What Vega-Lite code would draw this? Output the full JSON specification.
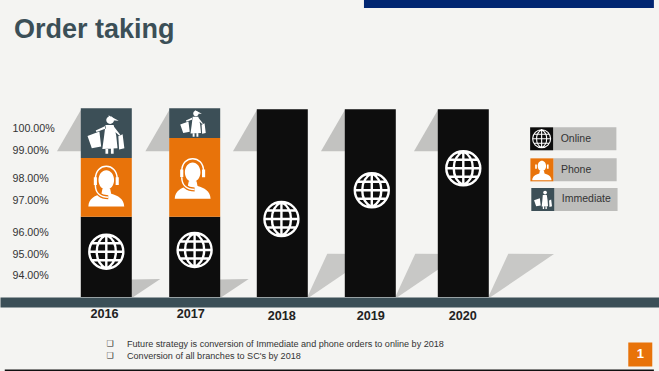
{
"$schema":"https://vega.github.io/schema/vega-lite/v6.json",
"width":659,"height":371,"padding":0,"autosize":{"type":"none"},
"background":"#f4f4f2",
"config":{"view":{"stroke":null},"font":"Liberation Sans"},
"title":{"text":"Order taking","anchor":"start","frame":"group","orient":"top","align":"left","baseline":"alphabetic","dx":14,"dy":65,"offset":0,"font":"Liberation Sans","fontSize":27,"fontWeight":"bold","color":"#3b4f57"},
"datasets":{
"bars":[
{"year":2016,"channel":"Online","low":0.93,"value":0.9648},
{"year":2016,"channel":"Phone","low":0.9648,"value":0.98714},
{"year":2016,"channel":"Immediate","low":0.98714,"value":1.00895},
{"year":2017,"channel":"Online","low":0.93,"value":0.96478},
{"year":2017,"channel":"Phone","low":0.96478,"value":0.99545},
{"year":2017,"channel":"Immediate","low":0.99545,"value":1.00895},
{"year":2018,"channel":"Online","low":0.93,"value":1.0085},
{"year":2019,"channel":"Online","low":0.93,"value":1.0085},
{"year":2020,"channel":"Online","low":0.93,"value":1.0085}
],
"marks":[
{"kind":"shadowTop","year":2016,"value":1.0085},{"kind":"shadowTop","year":2017,"value":1.0085},{"kind":"shadowTop","year":2018,"value":1.0085},{"kind":"shadowTop","year":2019,"value":1.0085},{"kind":"shadowTop","year":2020,"value":1.0085},
{"kind":"shadowLow","year":2016,"value":0.93},{"kind":"shadowLow","year":2017,"value":0.93},
{"kind":"shadowHigh","year":2018,"value":0.93},{"kind":"shadowHigh","year":2019,"value":0.93},{"kind":"shadowHigh","year":2020,"value":0.93},
{"kind":"globe","year":2016,"value":0.95105},{"kind":"globe","year":2016.999,"value":0.95182},{"kind":"globe","year":2017.99,"value":0.96406},{"kind":"globe","year":2019.016,"value":0.97441},{"kind":"globe","year":2020,"value":0.98346},
{"kind":"agent","year":2016,"value":0.97591},{"kind":"agent","year":2016.977,"value":0.97941},
{"kind":"woman","year":2015.99,"value":0.99714},
{"kind":"womanSmall","year":2016.977,"value":1.00214},
{"kind":"swatch","series":"Online","year":2020.863,"value":0.99509,"label":"Online"},
{"kind":"swatch","series":"Phone","year":2020.866,"value":0.98291,"label":"Phone"},
{"kind":"swatch","series":"Immediate","year":2020.876,"value":0.97023,"label":"Immediate"},
{"kind":"legendGlobe","year":2020.863,"value":0.99509},
{"kind":"legendAgent","year":2020.866,"value":0.98291},
{"kind":"legendWoman","year":2020.876,"value":0.97023},
{"kind":"note","year":2016.234,"value":0.91095,"label":"Future strategy is conversion of Immediate and phone orders to online by 2018"},
{"kind":"note","year":2016.234,"value":0.90608,"label":"Conversion of all branches to SC's by 2018"},
{"kind":"page","year":2021.95,"value":0.90669,"label":"1"}
],
"bands":[
{"band":"top","year":2018.928,"yearEnd":2022.1,"value":1.05818,"valueEnd":1.05454},
{"band":"bottom","year":2014.8,"yearEnd":2022.1,"value":0.9,"valueEnd":0.90057}
]
},
"encoding":{
"x":{"field":"year","type":"quantitative","title":null,
 "scale":{"type":"linear","zero":false,"nice":false,"domain":[2014.8,2016,2017,2018,2019,2020,2022.1],"range":[0,106.3,194.7,282.3,370.3,463.3,659]},
 "axis":{"orient":"bottom","offset":-69,"values":[2016,2017,2018,2019,2020],"format":"d","grid":false,"ticks":false,"domain":true,"domainColor":"#3b4f57","domainWidth":10,
  "labelFont":"Liberation Sans","labelFontSize":12.7,"labelFontWeight":"bold","labelColor":"#222222","labelFlush":false,"labelOverlap":false,"labelBound":false,
  "labelPadding":{"condition":{"test":"datum.value<2018","value":5},"value":7},
  "labelOffset":{"condition":[{"test":"datum.value==2016","value":-2.3},{"test":"datum.value==2017","value":-4.4},{"test":"datum.value==2018","value":-1},{"test":"datum.value==2020","value":-1}],"value":0}}},
"y":{"field":"value","type":"quantitative","title":null,
 "scale":{"type":"linear","zero":false,"nice":false,"domain":[0.9,0.93,0.94,0.95,0.96,0.97,0.98,0.99,1,1.01,1.05818],"range":[371,297,275,254,232,200,178,150,128,106,0]},
 "axis":{"orient":"left","offset":-12,"values":[0.94,0.95,0.96,0.97,0.98,0.99,1],"format":".2%","grid":false,"ticks":false,"domain":false,"labelAlign":"left","labelPadding":0,
  "labelFont":"Liberation Sans","labelFontSize":10.7,"labelColor":"#333333","labelFlush":false,"labelOverlap":false,"labelBound":false}}
},
"layer":[
{"data":{"name":"bands"},"transform":[{"filter":"datum.band=='top'"}],"mark":{"type":"rect","color":"#012672"},"encoding":{"x2":{"field":"yearEnd"},"y2":{"field":"valueEnd"}}},
{"data":{"name":"bands"},"transform":[{"filter":"datum.band=='bottom'"}],"mark":{"type":"rect","color":"#111111"},"encoding":{"x2":{"field":"yearEnd"},"y2":{"field":"valueEnd"}}},
{"data":{"name":"marks"},"transform":[{"filter":"datum.kind=='shadowTop'"}],"mark":{"type":"point","filled":true,"opacity":1,"color":"#c2c2c0","size":400,"shape":"M-2.5,0L-4.93,4.2L-2.5,4.2Z"}},
{"data":{"name":"marks"},"transform":[{"filter":"datum.kind=='shadowLow'"}],"mark":{"type":"point","filled":true,"opacity":1,"color":"#c2c2c0","size":400,"shape":"M2.5,0L2.5,-1.75L5.4,-1.8L2.7,0Z"}},
{"data":{"name":"marks"},"transform":[{"filter":"datum.kind=='shadowHigh'"}],"mark":{"type":"point","filled":true,"opacity":1,"color":"#c8c8c6","size":400,"shape":"M2.5,0L4.5,-4.33L9.07,-4.3L2.74,0Z"}},
{"data":{"name":"bars"},"mark":{"type":"bar","width":51},"encoding":{"y2":{"field":"low"},"color":{"field":"channel","type":"nominal","legend":null,"scale":{"domain":["Online","Phone","Immediate"],"range":["#0d0d0d","#e8730a","#3c4f57"]}}}},
{"data":{"name":"marks"},"transform":[{"filter":"datum.kind=='globe'"}],"mark":{"type":"point","filled":false,"opacity":1,"stroke":"#ffffff","strokeWidth":2.4,"size":1156,"shape":"M-1,0A1,1 0 1 1 1,0A1,1 0 1 1 -1,0Z M0,-1V1 M-1,0H1 M-0.85,-0.5H0.85 M-0.85,0.5H0.85 M0,-1C-0.75,-0.6 -0.75,0.6 0,1 M0,-1C0.75,-0.6 0.75,0.6 0,1"}},
{"data":{"name":"marks"},"transform":[{"filter":"datum.kind=='agent'"}],"mark":{"type":"point","filled":true,"opacity":1,"color":"#ffffff","size":1521,"shape":"M-0.4,-0.36A0.4,0.5 0 1 1 0.4,-0.36A0.4,0.5 0 1 1 -0.4,-0.36Z M-0.2,0.1L0.2,0.1L0.25,0.35C0.6,0.45 0.9,0.6 0.92,1L-0.92,1C-0.9,0.6 -0.6,0.45 -0.25,0.35Z M-0.64,-0.5H-0.48V-0.1H-0.64Z M0.48,-0.5H0.64V-0.1H0.48Z"}},
{"data":{"name":"marks"},"transform":[{"filter":"datum.kind=='agent'"}],"mark":{"type":"point","filled":false,"opacity":1,"stroke":"#e8730a","strokeWidth":4,"size":1521,"shape":"M-0.55,-0.1C-0.55,0.35 -0.25,0.52 0.1,0.52"}},
{"data":{"name":"marks"},"transform":[{"filter":"datum.kind=='agent'"}],"mark":{"type":"point","filled":false,"opacity":1,"stroke":"#ffffff","strokeWidth":1.5,"size":1521,"shape":"M-0.56,-0.4C-0.56,-1.28 0.56,-1.28 0.56,-0.4 M-0.56,-0.1C-0.56,0.35 -0.25,0.52 0.1,0.52"}},
{"data":{"name":"marks"},"transform":[{"filter":"datum.kind=='woman'"}],"mark":{"type":"point","filled":true,"opacity":1,"color":"#ffffff","size":1521,"shape":"M0.04,-0.73A0.2,0.2 0 1 1 0.44,-0.73A0.2,0.2 0 1 1 0.04,-0.73Z M0.15,-0.98L0.68,-0.7L0.3,-0.72Z M0,-0.48L0.42,-0.48L0.55,0.05L0.62,0.72L-0.16,0.75L-0.07,0.1Z M0,0.75H0.14V1H0Z M0.28,0.72H0.42V1H0.28Z M-0.92,0.09L-0.31,-0.14L-0.22,0.63L-0.7,0.72Z M0.66,0.1L0.88,0L0.97,0.72L0.7,0.78Z M0.02,-0.44L-0.5,-0.2L-0.46,-0.12L0.02,-0.3Z M0.4,-0.44L0.76,0.02L0.7,0.06L0.42,-0.2Z"}},
{"data":{"name":"marks"},"transform":[{"filter":"datum.kind=='womanSmall'"}],"mark":{"type":"point","filled":true,"opacity":1,"color":"#ffffff","size":729,"shape":"M0.04,-0.73A0.2,0.2 0 1 1 0.44,-0.73A0.2,0.2 0 1 1 0.04,-0.73Z M0.15,-0.98L0.68,-0.7L0.3,-0.72Z M0,-0.48L0.42,-0.48L0.55,0.05L0.62,0.72L-0.16,0.75L-0.07,0.1Z M0,0.75H0.14V1H0Z M0.28,0.72H0.42V1H0.28Z M-0.92,0.09L-0.31,-0.14L-0.22,0.63L-0.7,0.72Z M0.66,0.1L0.88,0L0.97,0.72L0.7,0.78Z M0.02,-0.44L-0.5,-0.2L-0.46,-0.12L0.02,-0.3Z M0.4,-0.44L0.76,0.02L0.7,0.06L0.42,-0.2Z"}},
{"data":{"name":"marks"},"transform":[{"filter":"datum.kind=='swatch'"}],"mark":{"type":"point","filled":true,"opacity":1,"color":"#bdbdbb","size":529,"shape":"M1,-1H6.5V1H1Z"}},
{"data":{"name":"marks"},"transform":[{"filter":"datum.kind=='swatch'"}],"mark":{"type":"point","filled":true,"opacity":1,"size":529,"shape":"M-1,-1H1V1H-1Z"},"encoding":{"color":{"field":"series","type":"nominal","legend":null}}},
{"data":{"name":"marks"},"transform":[{"filter":"datum.kind=='legendGlobe'"}],"mark":{"type":"point","filled":false,"opacity":1,"stroke":"#ffffff","strokeWidth":1.1,"size":324,"shape":"M-1,0A1,1 0 1 1 1,0A1,1 0 1 1 -1,0Z M0,-1V1 M-1,0H1 M-0.85,-0.5H0.85 M-0.85,0.5H0.85 M0,-1C-0.75,-0.6 -0.75,0.6 0,1 M0,-1C0.75,-0.6 0.75,0.6 0,1"}},
{"data":{"name":"marks"},"transform":[{"filter":"datum.kind=='legendAgent'"}],"mark":{"type":"point","filled":true,"opacity":1,"color":"#ffffff","size":441,"shape":"M-0.4,-0.36A0.4,0.5 0 1 1 0.4,-0.36A0.4,0.5 0 1 1 -0.4,-0.36Z M-0.2,0.1L0.2,0.1L0.25,0.35C0.6,0.45 0.9,0.6 0.92,1L-0.92,1C-0.9,0.6 -0.6,0.45 -0.25,0.35Z M-0.64,-0.5H-0.48V-0.1H-0.64Z M0.48,-0.5H0.64V-0.1H0.48Z"}},
{"data":{"name":"marks"},"transform":[{"filter":"datum.kind=='legendWoman'"}],"mark":{"type":"point","filled":true,"opacity":1,"color":"#ffffff","size":361,"shape":"M0.04,-0.73A0.2,0.2 0 1 1 0.44,-0.73A0.2,0.2 0 1 1 0.04,-0.73Z M0,-0.48L0.42,-0.48L0.5,0.05L0.55,0.72L-0.12,0.75L-0.05,0.1Z M0,0.75H0.14V1H0Z M0.28,0.72H0.42V1H0.28Z M-0.92,0.09L-0.31,-0.14L-0.22,0.63L-0.7,0.72Z M0.66,0.1L0.88,0L0.97,0.72L0.7,0.78Z"}},
{"data":{"name":"marks"},"transform":[{"filter":"datum.kind=='swatch'"}],"mark":{"type":"text","align":"left","baseline":"middle","dx":19,"fontSize":10.5,"font":"Liberation Sans","color":"#333333"},"encoding":{"text":{"field":"label"}}},
{"data":{"name":"marks"},"transform":[{"filter":"datum.kind=='note'"}],"mark":{"type":"text","align":"left","baseline":"middle","fontSize":9.08,"font":"Liberation Sans","color":"#333333"},"encoding":{"text":{"field":"label"}}},
{"data":{"name":"marks"},"transform":[{"filter":"datum.kind=='note'"}],"mark":{"type":"text","align":"center","baseline":"middle","dx":-17,"fontSize":8,"fontWeight":"bold","font":"DejaVu Sans","color":"#222222","text":"❑"}},
{"data":{"name":"marks"},"transform":[{"filter":"datum.kind=='page'"}],"mark":{"type":"point","filled":true,"opacity":1,"color":"#e8730a","size":576,"shape":"M-1,-1H1V1H-1Z"}},
{"data":{"name":"marks"},"transform":[{"filter":"datum.kind=='page'"}],"mark":{"type":"text","align":"center","baseline":"middle","fontSize":13,"fontWeight":"bold","font":"Liberation Sans","color":"#ffffff"},"encoding":{"text":{"field":"label"}}}
]
}
